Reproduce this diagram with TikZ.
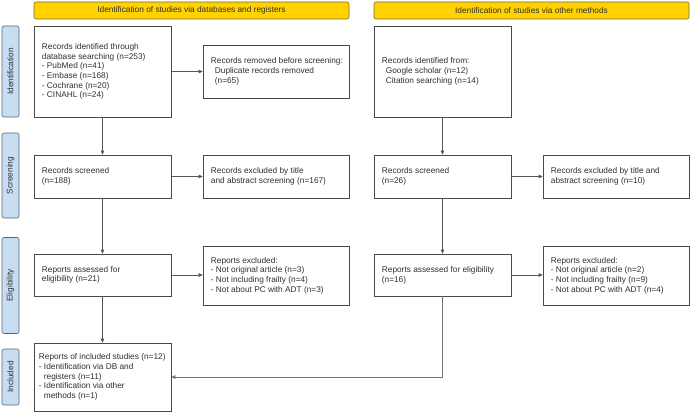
\documentclass[tikz,border=0pt]{standalone}
\usepackage{fontspec}
\setmainfont{Liberation Sans}
\usetikzlibrary{arrows.meta,positioning}
\definecolor{banyellow}{HTML}{FFD200}
\definecolor{banborder}{HTML}{7A6A30}
\definecolor{sideblue}{HTML}{C8DDF2}
\definecolor{sideborder}{HTML}{5A6470}
\definecolor{boxline}{HTML}{4A4A4A}
\definecolor{conline}{HTML}{555555}
\definecolor{txt}{HTML}{303030}
\begin{document}
\begin{tikzpicture}[x=1pt,y=-1pt,
  every node/.style={font=\fontsize{8.3}{9.7}\selectfont, text=txt},
  banner/.style={draw=banborder, fill=banyellow, rounded corners=2pt, line width=0.6pt,
     minimum width=315pt, minimum height=17pt, inner sep=0pt, anchor=center},
  side/.style={draw=sideborder, fill=sideblue, rounded corners=2pt, line width=0.6pt,
     rotate=90, inner sep=0pt, minimum height=17pt, anchor=center},
  box/.style={draw=boxline, line width=0.6pt, fill=white, inner sep=0pt,
     minimum width=137pt, anchor=center},
  wbox/.style={box, minimum width=146pt},
  btext/.style={align=left, inner sep=0pt, anchor=west},
  link/.style={draw=conline, line width=0.6pt, -{Triangle[length=4pt,width=3.5pt]}}
]
\useasboundingbox (0,0) rectangle (690,412);
% banners
\node[banner] (b1) at (191.5,10.5) {Identification of studies via databases and registers};
\node[banner] (b2) at (531.5,10.5) {Identification of studies via other methods};
% side labels
\node[side, minimum width=91pt] (s1) at (10.5,71.5) {Identification};
\node[side, minimum width=85pt] (s2) at (10.5,175.5) {Screening};
\node[side, minimum width=96pt] (s3) at (10.5,285.5) {Eligibility};
\node[side, minimum width=56pt] (s4) at (10.5,377) {Included};
% left column boxes
\node[box, minimum height=91pt] (a1) at (102.5,71.5) {};
\node[wbox, minimum height=53pt] (a2) at (276,71.5) {};
\node[box, minimum height=43pt] (a3) at (102.5,176.5) {};
\node[wbox, minimum height=43pt] (a4) at (276,176.5) {};
\node[box, minimum height=42pt] (a5) at (102.5,275) {};
\node[wbox, minimum height=59pt] (a6) at (276,275.5) {};
\node[box, minimum height=68pt] (a7) at (102.5,377) {};
% right column boxes
\node[box, minimum height=91pt] (c1) at (442.5,71.5) {};
\node[box, minimum height=43pt] (c3) at (442.5,176.5) {};
\node[wbox, minimum height=43pt] (c4) at (616,176.5) {};
\node[box, minimum height=42pt] (c5) at (442.5,275) {};
\node[wbox, minimum height=59pt] (c6) at (616,275.5) {};
% texts
\node[btext, right=8pt of a1.west] (ta1) {Records identified through\\database searching (n=253)\\- PubMed (n=41)\\- Embase (n=168)\\- Cochrane (n=20)\\- CINAHL (n=24)};
\node[btext, right=8pt of a2.west] (ta2) {Records removed before screening:\\\hspace*{4pt}Duplicate records removed\\\hspace*{4pt}(n=65)};
\node[btext, right=8pt of a3.west] (ta3) {Records screened\\(n=188)};
\node[btext, right=8pt of a4.west] (ta4) {Records excluded by title\\and abstract screening (n=167)};
\node[btext, right=8pt of a5.west] (ta5) {Reports assessed for\\eligibility (n=21)};
\node[btext, right=8pt of a6.west] (ta6) {Reports excluded:\\- Not original article (n=3)\\- Not including frailty (n=4)\\- Not about PC with ADT (n=3)};
\node[btext, right=5pt of a7.west] (ta7) {Reports of included studies (n=12)\\- Identification via DB and\\\hspace*{5pt}registers (n=11)\\- Identification via other\\\hspace*{5pt}methods (n=1)};
\node[btext, right=8pt of c1.west] (tc1) {Records identified from:\\\hspace*{4pt}Google scholar (n=12)\\\hspace*{4pt}Citation searching (n=14)};
\node[btext, right=8pt of c3.west] (tc3) {Records screened\\(n=26)};
\node[btext, right=8pt of c4.west] (tc4) {Records excluded by title and\\abstract screening (n=10)};
\node[btext, right=8pt of c5.west] (tc5) {Reports assessed for eligibility\\(n=16)};
\node[btext, right=8pt of c6.west] (tc6) {Reports excluded:\\- Not original article (n=2)\\- Not including frailty (n=9)\\- Not about PC with ADT (n=4)};
% connectors
\draw[link] (a1.south) -- (a3.north);
\draw[link] (a1.east) -- (a2.west);
\draw[link] (a3.east) -- (a4.west);
\draw[link] (a3.south) -- (a5.north);
\draw[link] (a5.east) -- (a6.west |- a5.east);
\draw[link] (a5.south) -- (a7.north);
\draw[link] (c1.south) -- (c3.north);
\draw[link] (c3.east) -- (c4.west);
\draw[link] (c3.south) -- (c5.north);
\draw[link] (c5.east) -- (c6.west |- c5.east);
\draw[link, draw=gray!90!black] (c5.south) |- (a7.east);
\end{tikzpicture}
\end{document}
